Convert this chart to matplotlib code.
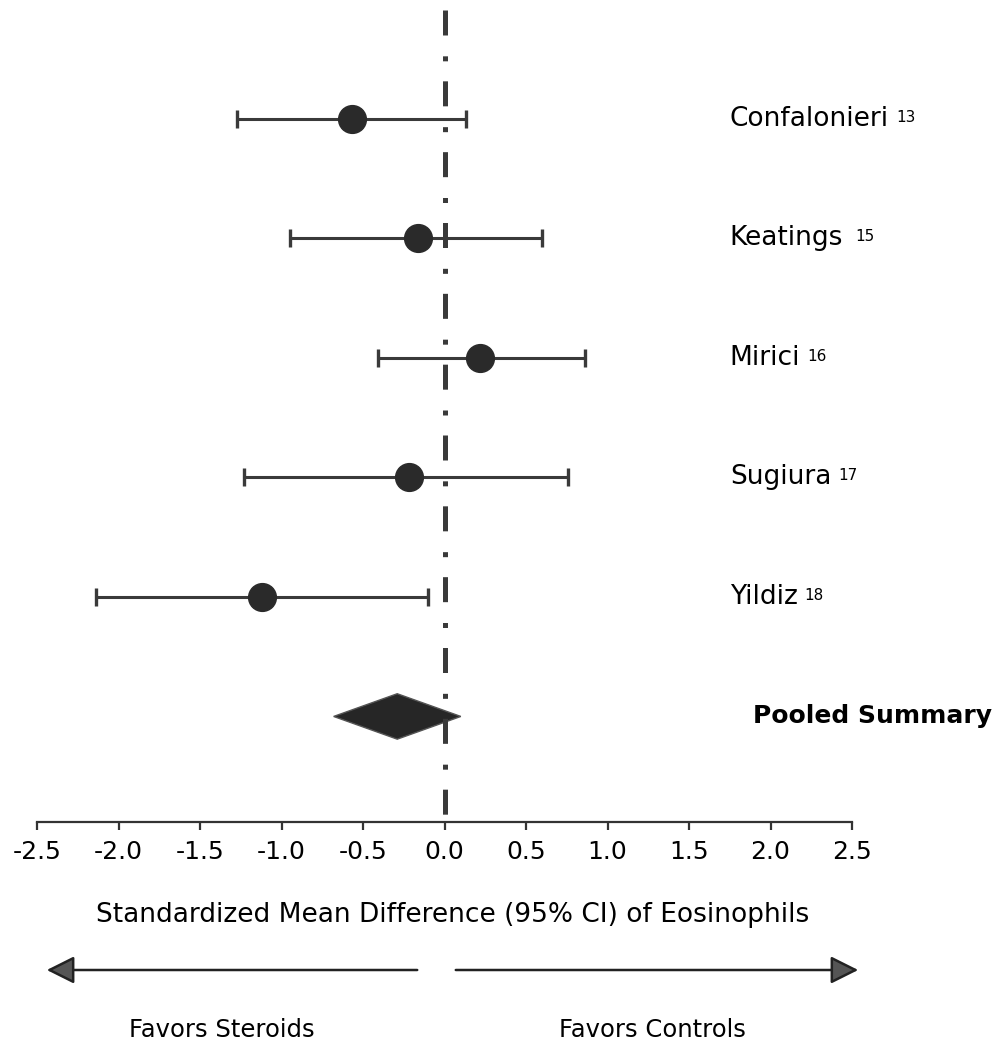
"""
Forest plot - standardized mean difference of eosinophils
"""

import numpy as np
import matplotlib
matplotlib.use('Agg')
import matplotlib.pyplot as plt
from matplotlib.patches import Polygon, FancyArrowPatch

# ============================================================================
# DATA
# ============================================================================

studies = ['Confalonieri', 'Keatings', 'Mirici', 'Sugiura', 'Yildiz']
refs = ['13', '15', '16', '17', '18']
smd = [-0.57, -0.16, 0.22, -0.22, -1.12]
ci_low = [-1.27, -0.95, -0.41, -1.23, -2.14]
ci_high = [0.13, 0.60, 0.86, 0.76, -0.10]

pooled_label = 'Pooled Summary'
pooled_smd = -0.29
pooled_low = -0.68
pooled_high = 0.10

x_ticks = [-2.5, -2.0, -1.5, -1.0, -0.5, 0.0, 0.5, 1.0, 1.5, 2.0, 2.5]
x_label = 'Standardized Mean Difference (95% CI) of Eosinophils'
left_note = 'Favors Steroids'
right_note = 'Favors Controls'

# ============================================================================
# PLOT
# ============================================================================

plt.rcParams['font.family'] = ['DejaVu Sans']
plt.rcParams['lines.scale_dashes'] = False

W, H = 998, 1044
fig = plt.figure(figsize=(W / 100, H / 100), dpi=100)
ax = fig.add_axes([37 / W, 1 - 822 / H, 815 / W, 812 / H])

n = len(studies)
y_pos = np.arange(n, 0, -1)

# study estimates with CI
err = [np.array(smd) - np.array(ci_low), np.array(ci_high) - np.array(smd)]
ax.errorbar(smd, y_pos, xerr=err, fmt='o', color='#2a2a2a', ecolor='#3a3a3a',
            elinewidth=2.2, capsize=6.5, capthick=2.4, markersize=20, zorder=3)

# pooled diamond
dh = 0.19
diamond = Polygon([(pooled_low, 0), (pooled_smd, dh), (pooled_high, 0), (pooled_smd, -dh)],
                  closed=True, facecolor='#262626', edgecolor='#555555', lw=1, zorder=2)
ax.add_patch(diamond)

ax.set_xlim(-2.5, 2.5)
ax.set_ylim(-0.883, 5.91)

# null line (dash-dot), drawn top to bottom
ax.plot([0, 0], [5.91, -0.883], color='#3a3a3a', lw=3.6,
        linestyle=(0, (18, 15, 3.6, 14.4)), dash_capstyle='butt', zorder=4)

# labels on the right, with reference numbers as superscripts
name_texts = []
for y, name in zip(y_pos, studies):
    name_texts.append(ax.text(1.75, y, name, fontsize=19, va='center', ha='left',
                              clip_on=False))
fig.canvas.draw()
renderer = fig.canvas.get_renderer()
inv = ax.transData.inverted()
for nt, r, y in zip(name_texts, refs, y_pos):
    bb = nt.get_window_extent(renderer)
    gap = 12 if nt.get_text() == 'Keatings' else 7
    x0, _ = inv.transform((bb.x1 + gap, 0))
    _, y1 = inv.transform((0, bb.y1 - 4))
    ax.text(x0, y1, r, fontsize=11, va='top', ha='left', clip_on=False)

ax.text(1.89, 0, pooled_label, fontsize=18, fontweight='bold', va='center',
        ha='left', clip_on=False)

# axes styling
for s in ['top', 'right', 'left']:
    ax.spines[s].set_visible(False)
ax.spines['bottom'].set_linewidth(1.6)
ax.spines['bottom'].set_color('#333333')
ax.set_yticks([])
ax.set_xticks(x_ticks)
ax.set_xticklabels([f'{v:.1f}' for v in x_ticks], fontsize=18)
ax.tick_params(axis='x', direction='out', length=6, width=1.6, color='#333333', pad=7)

# axis title and direction arrows
fig.text(453 / W, 1 - 915 / H, x_label, fontsize=19, ha='center', va='center')
arrow_y = 1 - 970 / H
for x_start, x_end in [(420, 44), (453, 861)]:
    fig.add_artist(FancyArrowPatch(
        (x_start / W, arrow_y), (x_end / W, arrow_y), transform=fig.transFigure,
        arrowstyle='-|>,head_length=17,head_width=8.5', mutation_scale=1,
        lw=1.8, edgecolor='#222222', facecolor='#555555'))
fig.text(222 / W, 1 - 1030 / H, left_note, fontsize=17.5, ha='center', va='center')
fig.text(652 / W, 1 - 1030 / H, right_note, fontsize=17.5, ha='center', va='center')

fig.savefig('out.png', dpi=100)
